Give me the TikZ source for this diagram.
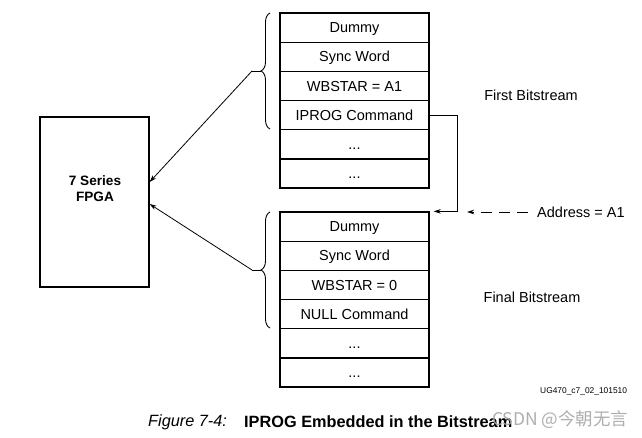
\documentclass[tikz,border=0pt]{standalone}
\usepackage{fontspec}
\setmainfont{Liberation Sans}
\newfontfamily\cjkfont{Noto Sans CJK SC}
\usetikzlibrary{arrows.meta,decorations.pathreplacing}
\tikzset{
  rowbox/.style={draw, line width=1.3pt, minimum width=149pt, minimum height=29.17pt, inner sep=0pt, text height=10.4pt, text depth=0pt, font=\fontsize{14.5}{17}\selectfont},
  conn/.style={line width=0.8pt, -{Stealth[length=7pt,width=4.5pt]}},
  plain/.style={line width=0.8pt},
  bracestyle/.style={line width=0.9pt, decorate, decoration={brace, amplitude=9pt}},
  lbl/.style={font=\fontsize{14.5}{17}\selectfont, inner sep=0pt},
}
\begin{document}
\begin{tikzpicture}[x=1pt,y=-1pt]
\useasboundingbox (0,0) rectangle (642,438);
\fill[white] (0,0) rectangle (642,438);

% FPGA
\node[draw, line width=1.3pt, minimum width=109pt, minimum height=170pt, inner sep=0pt] (fpga) at (94.5,202) {};
\node[align=center, font=\bfseries\fontsize{13.6}{16}\selectfont, inner sep=0pt] (fpgatxt) at (95,189) {7 Series\\FPGA};

% first bitstream
\node[rowbox] (a1) at (354.5,27.6) {Dummy};
\node[rowbox] (a2) at (354.5,56.75) {Sync Word};
\node[rowbox] (a3) at (354.5,85.9) {WBSTAR = A1};
\node[rowbox] (a4) at (354.5,115.1) {IPROG Command};
\node[rowbox] (a5) at (354.5,144.3) {...};
\node[rowbox] (a6) at (354.5,173.4) {...};

% final bitstream
\node[rowbox] (b1) at (354.5,226.6) {Dummy};
\node[rowbox] (b2) at (354.5,255.75) {Sync Word};
\node[rowbox] (b3) at (354.5,284.9) {WBSTAR = 0};
\node[rowbox] (b4) at (354.5,314.1) {NULL Command};
\node[rowbox] (b5) at (354.5,343.3) {...};
\node[rowbox] (b6) at (354.5,372.4) {...};

% braces
\draw[bracestyle] (270,129) -- (270,13);
\draw[bracestyle] (270,328) -- (270,212);
\coordinate (tipA) at (261,71);
\coordinate (tipB) at (261,270);
\coordinate (startA) at (252,71);
\coordinate (startB) at (252,270);
\draw[plain] (tipA) -- (startA);
\draw[plain] (tipB) -- (startB);
\draw[conn] (startA) -- ([yshift=20pt]fpga.east);
\draw[conn] (startB) -- ([yshift=-2pt]fpga.east);

% labels
\node[lbl] (first) at (531,95) {First Bitstream};
\node[lbl] (final) at (532,297) {Final Bitstream};
\node[lbl, anchor=west] (addr) at (537,212) {Address = A1};

% IPROG jump
\draw[conn] (a4.east) -- ++(28,0) |- ([xshift=4pt]b1.north east);
\coordinate (addrend) at (467,212);
\draw[conn, dash pattern=on 11pt off 7pt] ([xshift=-9pt]addr.west) -- (addrend);

% id
\node[anchor=west, inner sep=0pt, font=\fontsize{8.4}{10}\selectfont] (ugid) at (540,391) {UG470\_c7\_02\_101510};

% caption
\node[anchor=west, inner sep=0pt, font=\itshape\fontsize{16.3}{19}\selectfont] (figno) at (148,422) {Figure 7-4:};
\node[anchor=west, inner sep=0pt, font=\bfseries\fontsize{16.3}{19}\selectfont] (figtitle) at (244,422) {IPROG Embedded in the Bitstream};

% watermark
\node[anchor=west, inner sep=0pt, text=black!35, opacity=0.9, font=\cjkfont\fontsize{17.5}{20}\selectfont] (wm) at (492,420) {CSDN @今朝无言};
\end{tikzpicture}
\end{document}
